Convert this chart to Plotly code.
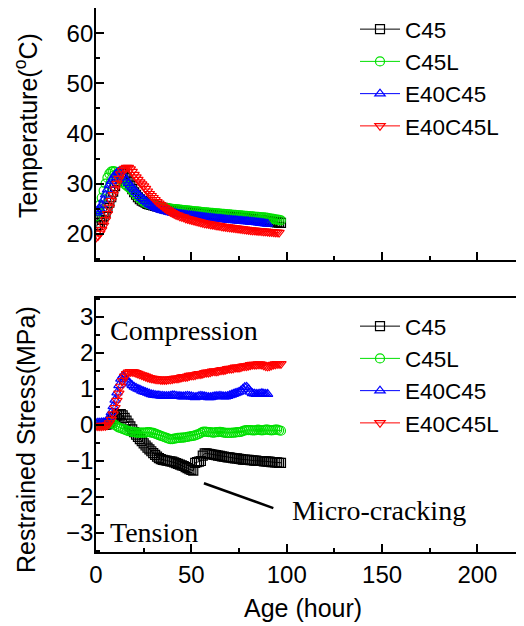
import plotly.graph_objects as go

AGE_H = [0, 1, 2, 3, 4, 5, 6, 7, 8, 9, 10, 11, 12, 13, 14, 15, 16, 17, 18, 19,
         20, 21, 22, 23, 24, 25, 26, 27, 28, 29, 30, 31, 32, 33, 34, 35, 36, 37, 38, 39,
         40, 41, 42, 43, 44, 45, 46, 47, 48, 49, 50, 51, 52, 53, 54, 55, 56, 57, 58, 59,
         60, 61, 62, 63, 64, 65, 66, 67, 68, 69, 70, 71, 72, 73, 74, 75, 76, 77, 78, 79,
         80, 81, 82, 83, 84, 85, 86, 87, 88, 89, 90, 91, 92, 93, 94, 95, 96, 97]

SERIES = ["C45", "C45L", "E40C45", "E40C45L"]

TEMP_C45 = [21.5, 21.8, 22.2, 22.8, 23.5, 24.3, 25.2, 26.2, 27.3, 28.4,
            29.5, 30.5, 31.4, 32.0, 32.2, 31.9, 31.2, 30.4, 29.6, 28.9,
            28.3, 27.8, 27.3, 26.9, 26.6, 26.4, 26.2, 26.0, 25.9, 25.8,
            25.7, 25.6, 25.5, 25.4, 25.3, 25.2, 25.1, 25.0, 24.95, 24.9,
            24.85, 24.8, 24.75, 24.7, 24.65, 24.6, 24.55, 24.5, 24.45, 24.4,
            24.35, 24.3, 24.25, 24.2, 24.15, 24.1, 24.05, 24.0, 23.95, 23.9,
            23.85, 23.8, 23.8, 23.75, 23.7, 23.65, 23.6, 23.55, 23.5, 23.5,
            23.45, 23.4, 23.35, 23.3, 23.3, 23.25, 23.2, 23.15, 23.1, 23.05,
            23.0, 22.95, 22.9, 22.85, 22.8, 22.8, 22.75, 22.7, 22.65, 22.6,
            22.55, 22.5, 22.45, 22.4, 22.35, 22.3, 22.25, 22.2]
TEMP_C45L = [23.5, 24.5, 25.8, 27.2, 28.6, 30.0, 31.2, 32.0, 32.4, 32.5,
             32.4, 32.0, 31.4, 30.8, 30.3, 29.9, 29.6, 29.3, 29.0, 28.6,
             28.2, 27.8, 27.4, 27.0, 26.7, 26.4, 26.2, 26.0, 25.9, 25.8,
             25.7, 25.6, 25.5, 25.4, 25.35, 25.3, 25.2, 25.15, 25.1, 25.05,
             25.0, 24.95, 24.9, 24.9, 24.85, 24.8, 24.75, 24.7, 24.7, 24.65,
             24.6, 24.55, 24.5, 24.5, 24.45, 24.4, 24.35, 24.3, 24.3, 24.25,
             24.2, 24.2, 24.15, 24.1, 24.1, 24.05, 24.0, 24.0, 23.95, 23.9,
             23.9, 23.85, 23.8, 23.8, 23.75, 23.7, 23.7, 23.65, 23.6, 23.6,
             23.55, 23.5, 23.5, 23.45, 23.4, 23.4, 23.35, 23.3, 23.3, 23.25,
             23.2, 23.1, 23.05, 23.0, 22.9, 22.85, 22.8, 22.7]
TEMP_E40C45 = [24.2, 24.5, 25.0, 25.8, 26.8, 27.8, 28.8, 29.7, 30.5, 31.2,
               31.8, 32.2, 32.4, 32.3, 31.8, 31.2, 30.6, 30.1, 29.6, 29.2,
               28.8, 28.3, 27.9, 27.5, 27.1, 26.8, 26.5, 26.2, 25.9, 25.7,
               25.5, 25.3, 25.1, 25.0, 24.8, 24.7, 24.6, 24.5, 24.4, 24.3,
               24.2, 24.15, 24.1, 24.0, 23.95, 23.9, 23.85, 23.8, 23.75, 23.7,
               23.65, 23.6, 23.55, 23.5, 23.45, 23.4, 23.35, 23.3, 23.25, 23.2,
               23.2, 23.15, 23.1, 23.05, 23.0, 23.0, 22.95, 22.9, 22.85, 22.8,
               22.8, 22.75, 22.7, 22.7, 22.65, 22.6, 22.6, 22.55, 22.5, 22.5,
               22.45, 22.4, 22.4, 22.35, 22.3, 22.25, 22.2, 22.15, 22.1, 22.05,
               22.0]
TEMP_E40C45L = [19.3, 19.6, 20.1, 20.8, 21.7, 22.8, 24.0, 25.3, 26.6, 27.8,
                28.9, 30.0, 31.0, 31.9, 32.6, 33.0, 33.2, 33.2, 32.9, 32.4,
                31.8, 31.3, 30.8, 30.3, 29.9, 29.5, 29.0, 28.5, 28.0, 27.6,
                27.2, 26.8, 26.4, 26.1, 25.8, 25.5, 25.2, 24.9, 24.7, 24.4,
                24.2, 24.0, 23.8, 23.7, 23.5, 23.4, 23.3, 23.1, 23.0, 22.9,
                22.8, 22.7, 22.6, 22.5, 22.4, 22.3, 22.2, 22.1, 22.05, 22.0,
                21.9, 21.85, 21.8, 21.7, 21.65, 21.6, 21.5, 21.45, 21.4, 21.35,
                21.3, 21.25, 21.2, 21.15, 21.1, 21.05, 21.0, 20.95, 20.9, 20.85,
                20.8, 20.75, 20.7, 20.7, 20.65, 20.6, 20.6, 20.55, 20.5, 20.5,
                20.45, 20.4, 20.4, 20.35, 20.3, 20.3, 20.25]

STRESS_C45 = [0.0, 0.0, 0.0, 0.0, 0.0, 0.01, 0.02, 0.05, 0.1, 0.16,
              0.22, 0.27, 0.3, 0.3, 0.27, 0.2, 0.12, 0.04, -0.04, -0.12,
              -0.2, -0.27, -0.33, -0.39, -0.45, -0.51, -0.57, -0.63, -0.68, -0.73,
              -0.78, -0.83, -0.88, -0.92, -0.95, -0.97, -0.98, -0.99, -1.0, -1.01,
              -1.02, -1.04, -1.06, -1.08, -1.1, -1.12, -1.14, -1.17, -1.2, -1.23,
              -1.25, -1.27, -1.05, -1.03, -1.02, -1.0, -0.85, -0.79, -0.79, -0.8,
              -0.81, -0.82, -0.83, -0.84, -0.85, -0.86, -0.87, -0.88, -0.89, -0.9,
              -0.9, -0.91, -0.92, -0.93, -0.93, -0.94, -0.95, -0.96, -0.96, -0.97,
              -0.97, -0.98, -0.98, -0.99, -0.99, -1.0, -1.0, -1.0, -1.01, -1.01,
              -1.02, -1.02, -1.03, -1.03, -1.04, -1.04, -1.05, -1.05]
STRESS_C45L = [0.0, 0.0, 0.0, 0.0, 0.01, 0.02, 0.03, 0.04, 0.05, 0.04,
               0.0, -0.04, -0.07, -0.09, -0.11, -0.13, -0.15, -0.17, -0.18, -0.19,
               -0.2, -0.21, -0.21, -0.21, -0.21, -0.21, -0.21, -0.2, -0.2, -0.21,
               -0.22, -0.24, -0.26, -0.28, -0.3, -0.32, -0.34, -0.36, -0.38, -0.39,
               -0.39, -0.38, -0.37, -0.36, -0.36, -0.35, -0.35, -0.34, -0.33, -0.32,
               -0.31, -0.3, -0.29, -0.27, -0.25, -0.22, -0.19, -0.18, -0.19, -0.2,
               -0.2, -0.21, -0.21, -0.2, -0.2, -0.19, -0.2, -0.21, -0.22, -0.22,
               -0.22, -0.22, -0.21, -0.21, -0.2, -0.2, -0.19, -0.17, -0.15, -0.14,
               -0.14, -0.14, -0.15, -0.15, -0.14, -0.13, -0.14, -0.15, -0.14, -0.13,
               -0.13, -0.14, -0.15, -0.14, -0.13, -0.13, -0.15, -0.16]
STRESS_E40C45 = [0.05, 0.06, 0.06, 0.07, 0.07, 0.08, 0.12, 0.22, 0.35, 0.52,
                 0.7, 0.9, 1.1, 1.28, 1.36, 1.33, 1.26, 1.2, 1.15, 1.1,
                 1.06, 1.03, 1.0, 0.98, 0.95, 0.93, 0.91, 0.89, 0.87, 0.85,
                 0.84, 0.83, 0.82, 0.82, 0.81, 0.81, 0.8, 0.8, 0.8, 0.81,
                 0.82, 0.82, 0.81, 0.8, 0.8, 0.79, 0.79, 0.8, 0.81, 0.8,
                 0.79, 0.78, 0.77, 0.78, 0.8, 0.81, 0.8, 0.79, 0.78, 0.77,
                 0.77, 0.78, 0.79, 0.8, 0.8, 0.81, 0.8, 0.79, 0.79, 0.8,
                 0.82, 0.84, 0.86, 0.88, 0.9, 0.92, 0.95, 1.0, 1.05, 1.06,
                 1.0, 0.92, 0.88, 0.87, 0.86, 0.86, 0.87, 0.88, 0.87, 0.86,
                 0.86]
STRESS_E40C45L = [-0.02, -0.03, -0.03, -0.03, -0.02, -0.02, 0.0, 0.05, 0.15, 0.3,
                  0.48, 0.68, 0.88, 1.07, 1.23, 1.35, 1.42, 1.46, 1.48, 1.48,
                  1.47, 1.45, 1.43, 1.41, 1.39, 1.37, 1.35, 1.33, 1.31, 1.3,
                  1.29, 1.28, 1.27, 1.27, 1.26, 1.26, 1.26, 1.26, 1.27, 1.27,
                  1.28, 1.29, 1.3, 1.3, 1.31, 1.33, 1.34, 1.34, 1.35, 1.37,
                  1.38, 1.38, 1.39, 1.41, 1.42, 1.42, 1.43, 1.45, 1.46, 1.46,
                  1.47, 1.49, 1.5, 1.49, 1.5, 1.52, 1.53, 1.53, 1.54, 1.56,
                  1.57, 1.57, 1.58, 1.6, 1.6, 1.6, 1.61, 1.63, 1.64, 1.64,
                  1.65, 1.67, 1.68, 1.68, 1.68, 1.69, 1.69, 1.68, 1.66, 1.64,
                  1.63, 1.64, 1.66, 1.68, 1.69, 1.7, 1.7, 1.7]

X_TICKS = [0, 50, 100, 150, 200]
T_TICKS = [20, 30, 40, 50, 60]
S_TICKS = [-3, -2, -1, 0, 1, 2, 3]

COLORS = ["#000000", "#00e000", "#0000ff", "#ff0000"]
SYMBOLS = ["square-open", "circle-open", "triangle-up-open", "triangle-down-open"]

SANS = "Liberation Sans, Arial, sans-serif"
SERIF = "Liberation Serif, Times New Roman, serif"

# the page body adds an 8px offset; figure is sized to fill the window after it
OFF = 8
SW, SH = 524, 626
W, H = SW - OFF, SH - OFF


def px(sx):
    return (sx - OFF) / W


def py(sy):
    return min(1.0, 1 - (sy - OFF) / H)


fig = go.Figure()

temps = [TEMP_C45, TEMP_C45L, TEMP_E40C45, TEMP_E40C45L]
stresses = [STRESS_C45, STRESS_C45L, STRESS_E40C45, STRESS_E40C45L]

for i, name in enumerate(SERIES):
    fig.add_trace(go.Scatter(
        x=AGE_H[:len(temps[i])], y=temps[i], name=name, mode="lines+markers",
        line=dict(color=COLORS[i], width=1),
        marker=dict(symbol=SYMBOLS[i], size=9, color=COLORS[i], line=dict(width=1.2, color=COLORS[i])),
        xaxis="x", yaxis="y", legend="legend"))
for i, name in enumerate(SERIES):
    fig.add_trace(go.Scatter(
        x=AGE_H[:len(stresses[i])], y=stresses[i], name=name, mode="lines+markers",
        line=dict(color=COLORS[i], width=1),
        marker=dict(symbol=SYMBOLS[i], size=9, color=COLORS[i], line=dict(width=1.2, color=COLORS[i])),
        xaxis="x2", yaxis="y2", legend="legend2"))

XR = [0, (SW - 96) / 1.907]


def xax(labels, anchor):
    return dict(
        domain=[px(96), 1.0], range=XR, anchor=anchor,
        tickvals=X_TICKS, showticklabels=labels,
        ticks="inside", ticklen=8, tickwidth=1.5, tickcolor="black",
        minor=dict(dtick=25, tick0=0, ticks="inside", ticklen=4, tickwidth=1.5, tickcolor="black"),
        showline=True, linewidth=1.8, linecolor="black", mirror=True,
        showgrid=False, zeroline=False,
        tickfont=dict(family=SANS, size=24, color="black"),
        ticklabelstandoff=0, automargin=False)


def yax(rng, ticks, minor, domain, anchor):
    return dict(
        domain=domain, range=rng, anchor=anchor,
        tickvals=ticks, ticks="inside", ticklen=8, tickwidth=1.5, tickcolor="black",
        minor=dict(dtick=minor, tick0=0, ticks="inside", ticklen=4, tickwidth=1.5, tickcolor="black"),
        showline=True, linewidth=1.8, linecolor="black", mirror=False,
        showgrid=False, zeroline=False,
        tickfont=dict(family=SANS, size=24, color="black"),
        ticklabelstandoff=-4, automargin=False)


dom_top = [py(260), py(8)]
dom_bot = [py(552), py(298)]

leg_common = dict(xanchor="left", yanchor="top",
                  font=dict(family=SANS, size=22.5, color="black"),
                  bgcolor="rgba(0,0,0,0)", tracegroupgap=0, itemwidth=40)

fig.update_layout(
    width=W, height=H,
    margin=dict(l=0, r=0, t=0, b=0, autoexpand=False),
    paper_bgcolor="white", plot_bgcolor="white",
    xaxis=xax(False, "y"),
    yaxis=yax([14.8, 65.0], T_TICKS, 5, dom_top, "x"),
    xaxis2=xax(True, "y2"),
    yaxis2=yax([-3.53, 3.53], S_TICKS, 0.5, dom_bot, "x2"),
    legend=dict(x=px(355), y=py(8), **leg_common),
    legend2=dict(x=px(355), y=py(305), **leg_common),
    showlegend=True,
)

fig.add_annotation(text="Temperature(<sup>o</sup>C)", xref="paper", yref="paper",
                   x=px(26), y=py(126), xanchor="center", yanchor="middle",
                   textangle=-90, showarrow=False,
                   font=dict(family=SANS, size=25, color="black"))
fig.add_annotation(text="Restrained Stress(MPa)", xref="paper", yref="paper",
                   x=px(26), y=py(440), xanchor="center", yanchor="middle",
                   textangle=-90, showarrow=False,
                   font=dict(family=SANS, size=25, color="black"))
fig.add_annotation(text="Age (hour)", xref="paper", yref="paper",
                   x=px(303), y=py(608), xanchor="center", yanchor="middle",
                   showarrow=False,
                   font=dict(family=SANS, size=25, color="black"))

fig.add_annotation(text="Compression", xref="x2", yref="y2", x=6.3, y=2.64,
                   xanchor="left", yanchor="middle", showarrow=False,
                   font=dict(family=SERIF, size=28, color="black"))
fig.add_annotation(text="Tension", xref="x2", yref="y2", x=6.3, y=-3.0,
                   xanchor="left", yanchor="middle", showarrow=False,
                   font=dict(family=SERIF, size=28, color="black"))
fig.add_annotation(text="Micro-cracking", xref="x2", yref="y2", x=101.7, y=-2.39,
                   xanchor="left", yanchor="middle", showarrow=False,
                   font=dict(family=SERIF, size=28, color="black"))
fig.add_shape(type="line", xref="x2", yref="y2", x0=56.6, y0=-1.62, x1=93.0, y1=-2.31,
              line=dict(color="black", width=2.5))

fig.write_html("out.html")
